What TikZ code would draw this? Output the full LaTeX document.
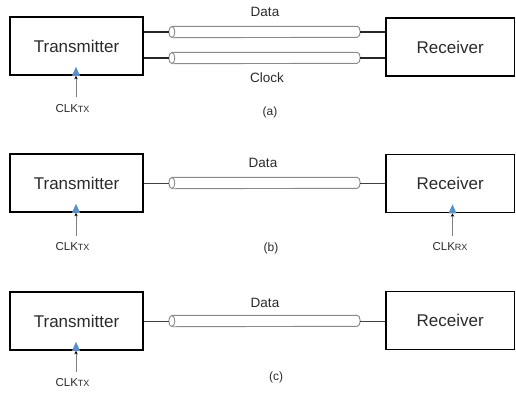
\documentclass[tikz,border=0pt]{standalone}
\usepackage{fontspec}
\setmainfont{Liberation Sans}
\usetikzlibrary{arrows.meta}
\definecolor{clkblue}{HTML}{5B8FC9}
\definecolor{tubegray}{HTML}{8A8A8A}
\definecolor{txt}{HTML}{2A2A2A}
\tikzset{
 block/.style={draw=black, line width=1.6pt, minimum width=133pt, minimum height=58pt, inner sep=0pt, text=txt, font=\fontsize{17}{17}\selectfont},
 rblock/.style={block, minimum width=128.5pt},
 cablebox/.style={draw=none, minimum width=191pt, minimum height=11pt, inner sep=0pt},
 tube/.style={draw=tubegray, line width=0.9pt},
 wire/.style={line width=1.2pt, draw=black!85},
 thinwire/.style={line width=0.9pt, draw=black!75},
 lbl/.style={font=\fontsize{13.5}{13.5}\selectfont, text=txt, inner sep=0pt},
 captxt/.style={font=\fontsize{12}{12}\selectfont, text=txt, inner sep=0pt},
 clk/.style={font=\fontsize{11.5}{11.5}\selectfont, text=txt, inner sep=0pt},
 clkarrow/.style={draw=gray, line width=0.8pt, -{Stealth[black,length=3.5pt,width=3.5pt]}},
 tri/.style={fill=clkblue, draw=none}
}
\newcommand{\clksub}[1]{CLK{\fontsize{9}{9}\selectfont #1}}
\newcommand{\cablebody}[1]{%
 \fill[white] ([xshift=3pt]#1.north west) -- ([xshift=-3pt]#1.north east)
   arc[start angle=90,end angle=-90,x radius=3pt,y radius=5.5pt] -- ([xshift=3pt]#1.south west) -- cycle;
 \draw[tube] ([xshift=3pt]#1.north west) -- ([xshift=-3pt]#1.north east)
   arc[start angle=90,end angle=-90,x radius=3pt,y radius=5.5pt] -- ([xshift=3pt]#1.south west);
 \draw[tube, fill=white] ([xshift=3pt]#1.west) ellipse [x radius=3pt, y radius=5.5pt];
}
\newcommand{\clkin}[2]{% coordinate, block
 \draw[clkarrow] (#1) -- (#1 |- #2.south);
 \fill[tri] ([xshift=-4pt]#1 |- #2.south) -- ([yshift=9pt]#1 |- #2.south) -- ([xshift=4pt]#1 |- #2.south) -- cycle;
}
\begin{document}
\begin{tikzpicture}[x=1pt,y=-1pt]
\useasboundingbox (0,0) rectangle (516,392);
% ---------- (a)
\node[block] (T1) at (76.5,46) {Transmitter};
\node[rblock] (R1) at (450.25,47) {Receiver};
\node[cablebox] (c1) at (264.5,32) {};
\node[cablebox] (c2) at (264.5,58) {};
\cablebody{c1}
\cablebody{c2}
\draw[wire] (T1.east |- c1.west) -- (c1.west);
\draw[wire] (c1.east) -- (R1.west |- c1.east);
\draw[wire] (T1.east |- c2.west) -- (c2.west);
\draw[wire] (c2.east) -- (R1.west |- c2.east);
\node[lbl] (d1) at (265,12) {Data};
\node[lbl] (k1) at (267,78) {Clock};
\node[captxt] (a) at (270,112) {(a)};
\node[clk] (x1) at (72.5,109) {\clksub{TX}};
\coordinate (x1a) at (76,97);
\clkin{x1a}{T1}
% ---------- (b)
\node[block] (T2) at (76.5,183) {Transmitter};
\node[rblock] (R2) at (450.25,183.5) {Receiver};
\node[cablebox] (c3) at (264.5,183) {};
\cablebody{c3}
\draw[thinwire] (T2.east |- c3.west) -- (c3.west);
\draw[thinwire] (c3.east) -- (R2.west |- c3.east);
\node[lbl] (d2) at (263,163) {Data};
\node[captxt] (b) at (271,248) {(b)};
\node[clk] (x2) at (72.5,247) {\clksub{TX}};
\coordinate (x2a) at (76,236);
\clkin{x2a}{T2}
\node[clk] (y2) at (450,247) {\clksub{RX}};
\coordinate (y2a) at (452.5,236);
\clkin{y2a}{R2}
% ---------- (c)
\node[block] (T3) at (76.5,321) {Transmitter};
\node[rblock] (R3) at (450.25,320.5) {Receiver};
\node[cablebox] (c4) at (264.5,321) {};
\cablebody{c4}
\draw[thinwire] (T3.east |- c4.west) -- (c4.west);
\draw[thinwire] (c4.east) -- (R3.west |- c4.east);
\node[lbl] (d3) at (265,303) {Data};
\node[captxt] (c) at (276,377) {(c)};
\node[clk] (x3) at (72.5,383) {\clksub{TX}};
\coordinate (x3a) at (76,372);
\clkin{x3a}{T3}
\end{tikzpicture}
\end{document}
